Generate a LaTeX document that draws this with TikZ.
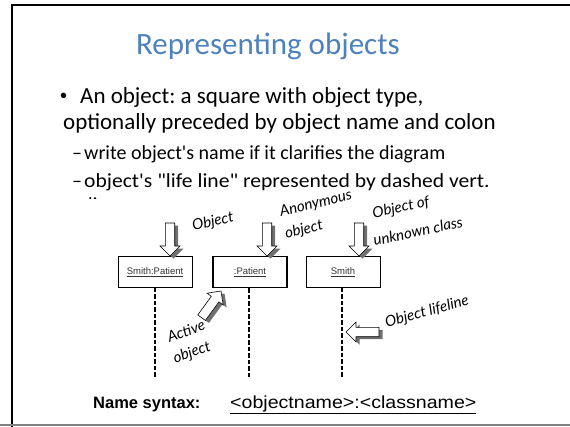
\documentclass[tikz,border=0pt]{standalone}
\usepackage{fontspec}
\setmainfont{Carlito}[Ligatures=TeXOff]
\newfontfamily\arialf{Liberation Sans}
\newfontfamily\handf{Lato}
\definecolor{titleblue}{HTML}{4F81BD}
\definecolor{shadowgray}{HTML}{707070}
\newcommand{\blockarrow}[3]{%
  \begin{scope}[shift={(#1+3.5,#2+2.5)}, y=1pt, rotate=#3]
    \fill[shadowgray] (0,0) -- (-10,10) -- (-10,4.7) -- (-33,4.7) -- (-33,-4.7) -- (-10,-4.7) -- (-10,-10) -- cycle;
  \end{scope}
  \begin{scope}[shift={(#1,#2)}, y=1pt, rotate=#3]
    \filldraw[fill=white, draw=black, line width=0.6pt] (0,0) -- (-10,10) -- (-10,4.7) -- (-33,4.7) -- (-33,-4.7) -- (-10,-4.7) -- (-10,-10) -- cycle;
  \end{scope}}
\frenchspacing
\begin{document}
\begin{tikzpicture}[x=1pt,y=-1pt,
  titletext/.style={font=\fontsize{31}{31}\selectfont, text=titleblue, inner sep=0pt},
  bodytext/.style={font=\fontsize{23}{23}\selectfont, anchor=base west, inner sep=0pt},
  subtext/.style={font=\fontsize{20}{20}\selectfont, anchor=base west, inner sep=0pt},
  objbox/.style={draw, line width=0.6pt, minimum width=74pt, minimum height=31pt, inner sep=0pt, font=\arialf\fontsize{9.5}{10}\selectfont, text=black!80},
  activebox/.style={objbox, line width=1.8pt},
  lifeline/.style={line width=1.8pt, dash pattern=on 4.5pt off 2pt},
  hand/.style={font=\handf\itshape\fontsize{15}{16}\selectfont, inner sep=0pt}
]
\useasboundingbox (0,0) rectangle (570,426);
\fill[white] (0,0) rectangle (570,426);
% slide frame
\draw[line width=2pt] (12,428) -- (12,5) -- (572,5);
\draw[gray, line width=1.3pt] (0,425) -- (572,425);

% title
\node[titletext, anchor=base] (title) at (268,54) {Representing objects};

% bullets
\node[font=\arialf\fontsize{20}{20}\selectfont, anchor=base west, inner sep=0pt] (bul) at (60,102) {•};
\node[bodytext] (b1) at (80,103) {An object: a square with object type,};
\node[bodytext] (b2) at (63,129) {optionally preceded by object name and colon};
\node[subtext] (d1) at (72,159) {–};
\node[subtext] (s1) at (84,159) {write object's name if it clarifies the diagram};
\node[subtext] (d2) at (72,187) {–};
\node[subtext] (s2) at (84,187) {\scalebox{1.08}[1]{object's "life line" represented by dashed vert.}};
\begin{scope}
  \clip (0,0) rectangle (570,198);
  \node[subtext] (s3) at (88,211) {lines};
\end{scope}

% objects
\node[objbox] (o1) at (155,272) {\underline{Smith:Patient}};
\node[activebox] (o2) at (250,272) {\underline{:Patient}};
\node[objbox] (o3) at (343,272) {\underline{Smith}};
\coordinate (e1) at (155,378);
\coordinate (e2) at (249,378);
\coordinate (e3) at (342,378);
\draw[lifeline] (o1.south) -- (e1);
\draw[lifeline] (o2.south -| e2) -- (e2);
\draw[lifeline] (o3.south -| e3) -- (e3);

% block arrows
\blockarrow{170}{256}{-90}
\blockarrow{267}{256}{-90}
\blockarrow{359}{256}{-90}
\blockarrow{221}{291}{54}
\blockarrow{346}{332}{180}

% handwritten labels
\node[hand, rotate=12] (lObj) at (213,222) {Object};
\node[hand, rotate=14] (lAnon1) at (316,204) {Anonymous};
\node[hand, rotate=14] (lAnon2) at (304,230) {object};
\node[hand, rotate=12] (lUnk1) at (401,208) {Object of};
\node[hand, rotate=12] (lUnk2) at (418,231) {unknown class};
\node[hand, rotate=15] (lLife) at (427,312) {Object lifeline};
\node[hand, rotate=20] (lAct1) at (186,331) {Active};
\node[hand, rotate=20] (lAct2) at (192,353) {object};

% name syntax
\node[font=\arialf\bfseries\fontsize{16.5}{16.5}\selectfont, anchor=base west, inner sep=0pt] (ns) at (93,408) {Name syntax:};
\node[font=\arialf\fontsize{17.5}{17.5}\selectfont, anchor=base west, inner sep=0pt] (nsv) at (230,408) {\scalebox{1.12}[1]{\underline{<objectname>:<classname>}}};
\end{tikzpicture}
\end{document}
